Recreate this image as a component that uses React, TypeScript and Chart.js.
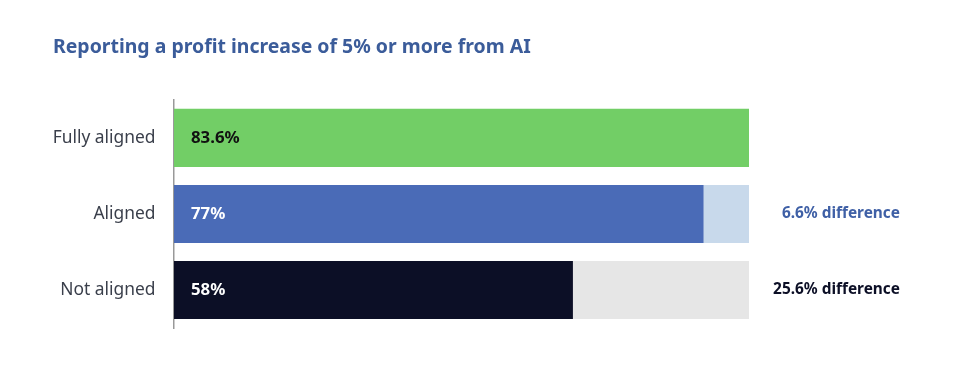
import React, { useEffect, useRef } from "react";
import { Chart, registerables } from "chart.js";

Chart.register(...registerables);

const categories = ["Fully aligned", "Aligned", "Not aligned"];
const values = [83.6, 77, 58];
const gaps = [0, 6.6, 25.6];
const valueLabels = ["83.6%", "77%", "58%"];
const gapLabels = ["", "6.6% difference", "25.6% difference"];
const titleText = "Reporting a profit increase of 5% or more from AI";

const barColors = ["#72CE66", "#4A6BB7", "#0C0F26"];
const gapColors = ["rgba(0,0,0,0)", "#C8D9EB", "#E6E6E6"];
const valueLabelColors = ["#111111", "#FFFFFF", "#FFFFFF"];
const gapLabelColors = ["#3F60A6", "#3F60A6", "#0C0F26"];

const FONT = "'Noto Sans', 'Open Sans', sans-serif";

const labelPlugin = {
  id: "barLabels",
  afterDatasetsDraw(chart: any) {
    const { ctx, chartArea } = chart;
    const meta = chart.getDatasetMeta(0);
    ctx.save();
    ctx.textBaseline = "middle";
    meta.data.forEach((bar: any, i: number) => {
      ctx.font = `bold 16.8px ${FONT}`;
      ctx.fillStyle = valueLabelColors[i];
      ctx.textAlign = "left";
      ctx.fillText(valueLabels[i], chartArea.left + 17, bar.y);
      if (gapLabels[i]) {
        ctx.font = `bold 15.4px ${FONT}`;
        ctx.fillStyle = gapLabelColors[i];
        ctx.textAlign = "right";
        ctx.fillText(gapLabels[i], chartArea.right + 151, bar.y);
      }
    });
    ctx.restore();
  },
};

export default function App() {
  const ref = useRef<HTMLCanvasElement>(null);
  useEffect(() => {
    document.body.style.margin = "0";
    const chart = new Chart(ref.current!, {
      type: "bar",
      data: {
        labels: categories,
        datasets: [
          {
            data: values,
            backgroundColor: barColors,
            barPercentage: 1,
            categoryPercentage: 0.763,
          },
          {
            data: gaps,
            backgroundColor: gapColors,
            barPercentage: 1,
            categoryPercentage: 0.763,
          },
        ],
      },
      options: {
        indexAxis: "y",
        animation: false,
        responsive: false,
        maintainAspectRatio: false,
        layout: { padding: { left: 53, right: 213, top: 0, bottom: 61 } },
        plugins: {
          legend: { display: false },
          tooltip: { enabled: false },
          title: {
            display: true,
            text: titleText,
            align: "start",
            color: "#3B5C9A",
            font: { family: FONT, size: 19.45, weight: "bold", lineHeight: 1.2 },
            padding: { top: 35.5, bottom: 41 },
          },
        },
        scales: {
          x: {
            display: false,
            stacked: true,
            min: 0,
            max: 83.6,
          },
          y: {
            stacked: true,
            grid: { display: false, drawTicks: false },
            border: { display: true, color: "#999999", width: 1.5 },
            ticks: {
              color: "#3A3F4B",
              padding: 18.5,
              font: { family: FONT, size: 17.4 },
            },
            afterFit(scale: any) {
              scale.width = 121;
            },
          },
        },
      },
      plugins: [labelPlugin],
    } as any);
    return () => chart.destroy();
  }, []);
  return (
    <div style={{ width: 962, height: 389 }}>
      <canvas ref={ref} width={962} height={389} />
    </div>
  );
}
